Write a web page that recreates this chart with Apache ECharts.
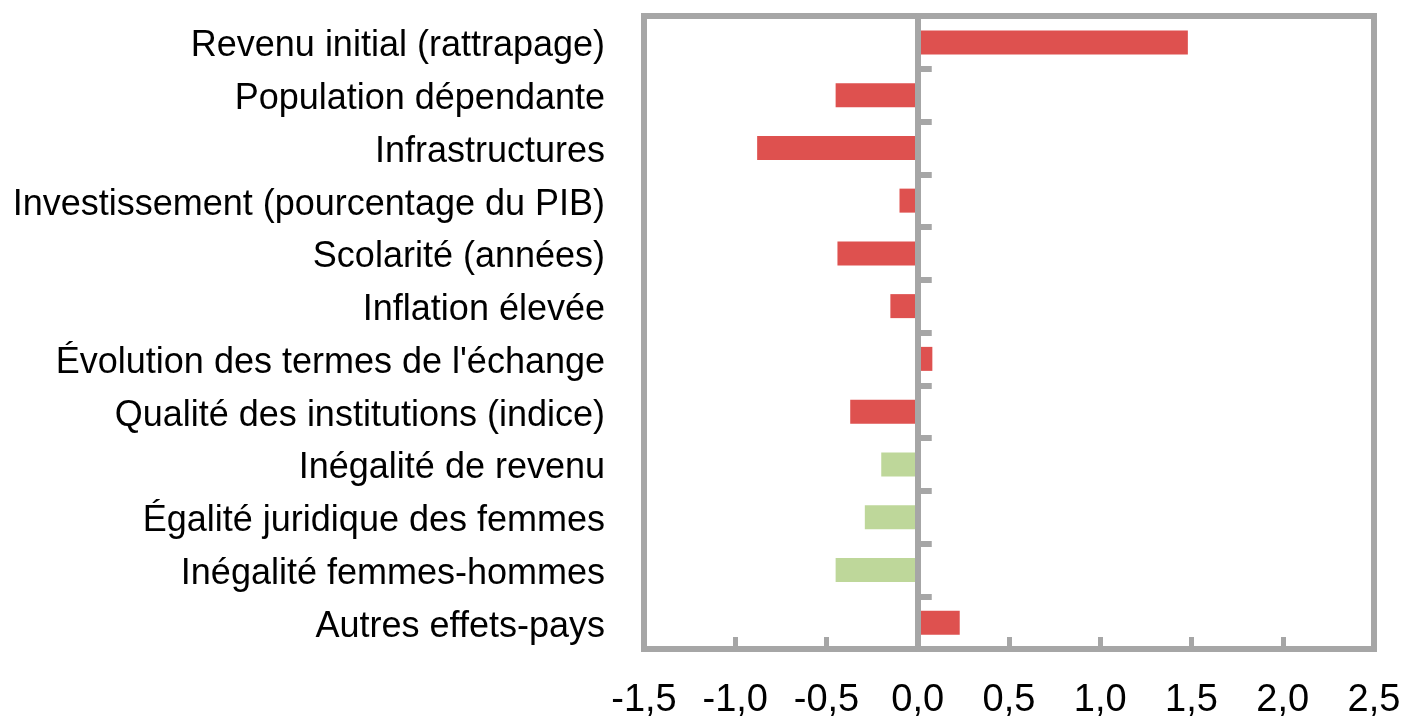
<!DOCTYPE html>
<html>
<head>
<meta charset="utf-8">
<script src="https://cdn.jsdelivr.net/npm/echarts@6/dist/echarts.min.js"></script>
<style>
  html, body { margin: 0; padding: 0; background: #fff; }
  #chart { width: 1404px; height: 717px; }
</style>
</head>
<body>
<div id="chart"></div>
<script>
// catégories, de haut en bas
const categories = [
  'Revenu initial (rattrapage)',
  'Population dépendante',
  'Infrastructures',
  'Investissement (pourcentage du PIB)',
  'Scolarité (années)',
  'Inflation élevée',
  "Évolution des termes de l'échange",
  'Qualité des institutions (indice)',
  'Inégalité de revenu',
  'Égalité juridique des femmes',
  'Inégalité femmes-hommes',
  'Autres effets-pays'
];
const values = [1.48, -0.45, -0.88, -0.10, -0.44, -0.15, 0.08, -0.37, -0.20, -0.29, -0.45, 0.23];
// groupe de chaque barre : 0 = rouge, 1 = vert
const groups = [0, 0, 0, 0, 0, 0, 0, 0, 1, 1, 1, 0];
const xTicks = [-1.5, -1.0, -0.5, 0.0, 0.5, 1.0, 1.5, 2.0, 2.5];

const RED = '#de514f';
const GREEN = '#bed79a';
const GREY = '#a6a6a6';
const FONT = '"Liberation Sans", Arial, sans-serif';

const myChart = echarts.init(document.getElementById('chart'));

const option = {
  animation: false,
  grid: {
    left: 644,
    right: 30,
    top: 16,
    bottom: 68,
    containLabel: false,
    outerBoundsMode: 'none',
    show: true,
    borderColor: GREY,
    borderWidth: 6,
    backgroundColor: 'transparent'
  },
  xAxis: {
    type: 'value',
    min: xTicks[0],
    max: xTicks[xTicks.length - 1],
    interval: 0.5,
    splitLine: { show: false },
    axisLine: { show: false, onZero: false },
    axisTick: { show: true, inside: true, length: 12, lineStyle: { color: GREY, width: 5 } },
    axisLabel: {
      margin: 33,
      fontSize: 38,
      fontFamily: FONT,
      color: '#000',
      hideOverlap: false,
      showMinLabel: true,
      showMaxLabel: true,
      formatter: v => v.toFixed(1).replace('.', ',')
    }
  },
  yAxis: {
    type: 'category',
    data: categories,
    inverse: true,
    z: 10,
    axisLine: { show: true, onZero: true, lineStyle: { color: GREY, width: 6 } },
    axisTick: { show: true, inside: true, length: 14, lineStyle: { color: GREY, width: 6 } },
    axisLabel: {
      margin: 39,
      fontSize: 36,
      fontFamily: FONT,
      color: '#000',
      // léger décalage vers le bas comme dans l'original
      formatter: v => '{c|' + v + '}',
      rich: {
        c: { fontSize: 36, fontFamily: FONT, color: '#000', padding: [8, 0, 0, 0] }
      }
    }
  },
  series: [
    {
      type: 'bar',
      barWidth: 24,
      data: values.map((v, i) => ({
        value: v,
        itemStyle: { color: groups[i] ? GREEN : RED }
      }))
    }
  ]
};

myChart.setOption(option);
</script>
</body>
</html>
